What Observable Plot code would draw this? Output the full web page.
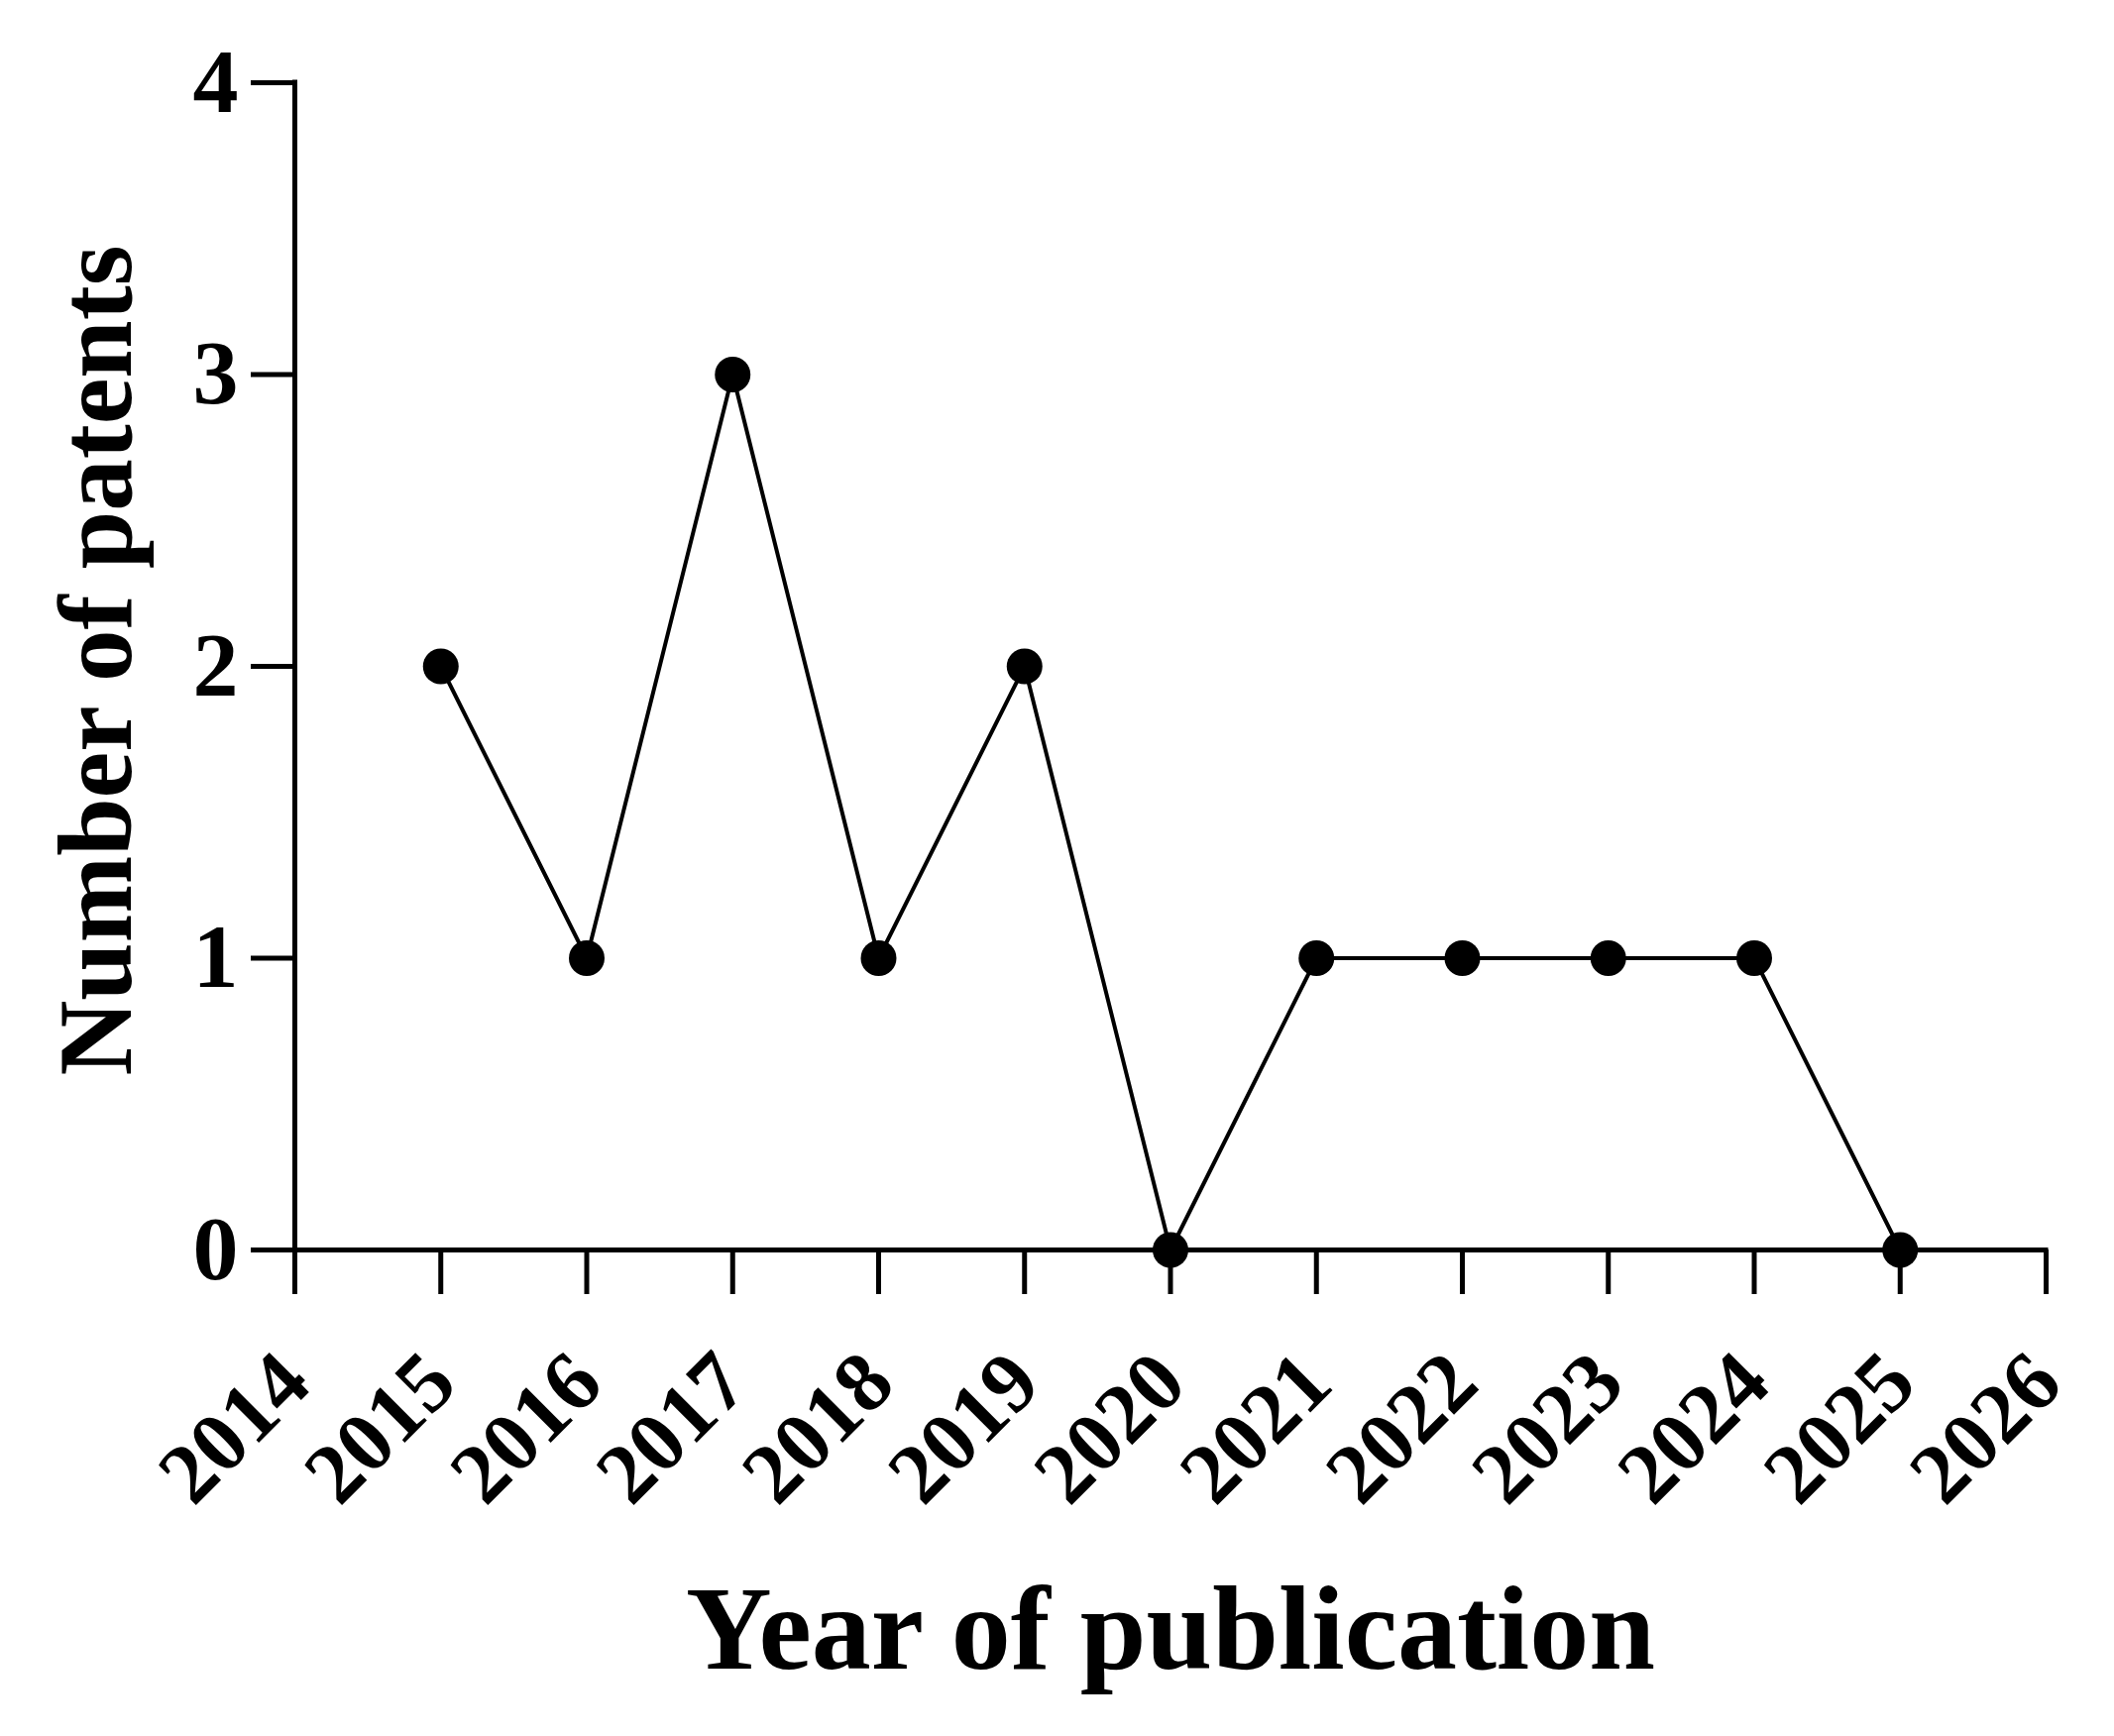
<!DOCTYPE html>
<html>
<head>
<meta charset="utf-8">
<script src="https://cdn.jsdelivr.net/npm/d3@7"></script>
<script src="https://cdn.jsdelivr.net/npm/@observablehq/plot@0.6"></script>
<style>
  html, body { margin: 0; padding: 0; background: #fff; }
</style>
</head>
<body>
<div id="chart"></div>
<script>
const years = [2015, 2016, 2017, 2018, 2019, 2020, 2021, 2022, 2023, 2024, 2025];
const patents = [2, 1, 3, 1, 2, 0, 1, 1, 1, 1, 0];
const xTicks = [2014, 2015, 2016, 2017, 2018, 2019, 2020, 2021, 2022, 2023, 2024, 2025, 2026];
const yTicks = [0, 1, 2, 3, 4];
const xTitle = "Year of publication";
const yTitle = "Number of patents";

const data = years.map((year, i) => ({year, value: patents[i]}));

const chart = Plot.plot({
  width: 2133,
  height: 1752,
  marginLeft: 297,
  marginRight: 69,
  marginTop: 83,
  marginBottom: 491,
  style: {
    fontFamily: "'Palatino Linotype', 'Book Antiqua', Palatino, 'Liberation Serif', serif",
    fontWeight: "bold",
    background: "#fff",
    color: "#000"
  },
  x: {domain: [xTicks[0], xTicks[xTicks.length - 1]]},
  y: {domain: [yTicks[0], yTicks[yTicks.length - 1]]},
  marks: [
    Plot.ruleX([xTicks[0]], {y1: yTicks[0], y2: yTicks[yTicks.length - 1], stroke: "#000", strokeWidth: 5, strokeLinecap: "square"}),
    Plot.ruleY([yTicks[0]], {x1: xTicks[0], x2: xTicks[xTicks.length - 1], stroke: "#000", strokeWidth: 5, strokeLinecap: "square"}),
    Plot.axisY({
      ticks: yTicks, tickSize: 44, tickPadding: 13, strokeWidth: 5,
      fontSize: 92, fontWeight: "bold", tickFormat: d => String(d), label: null
    }),
    Plot.axisX({
      ticks: xTicks, tickSize: 45, tickPadding: 74, tickRotate: -45, strokeWidth: 5,
      fontSize: 86, fontWeight: "bold", tickFormat: d => String(d), label: null
    }),
    Plot.line(data, {x: "year", y: "value", stroke: "#000", strokeWidth: 4}),
    Plot.dot(data, {x: "year", y: "value", r: 18, fill: "#000", stroke: "none"}),
    Plot.text([xTitle], {frameAnchor: "bottom", lineAnchor: "middle", textAnchor: "middle", dy: 384, fontSize: 120, fontWeight: "bold", fill: "#000"}),
    Plot.text([yTitle], {frameAnchor: "left", lineAnchor: "middle", textAnchor: "middle", dx: -199, dy: -6, rotate: -90, fontSize: 105, fontWeight: "bold", fill: "#000"})
  ]
});

document.getElementById("chart").appendChild(chart);
</script>
</body>
</html>
